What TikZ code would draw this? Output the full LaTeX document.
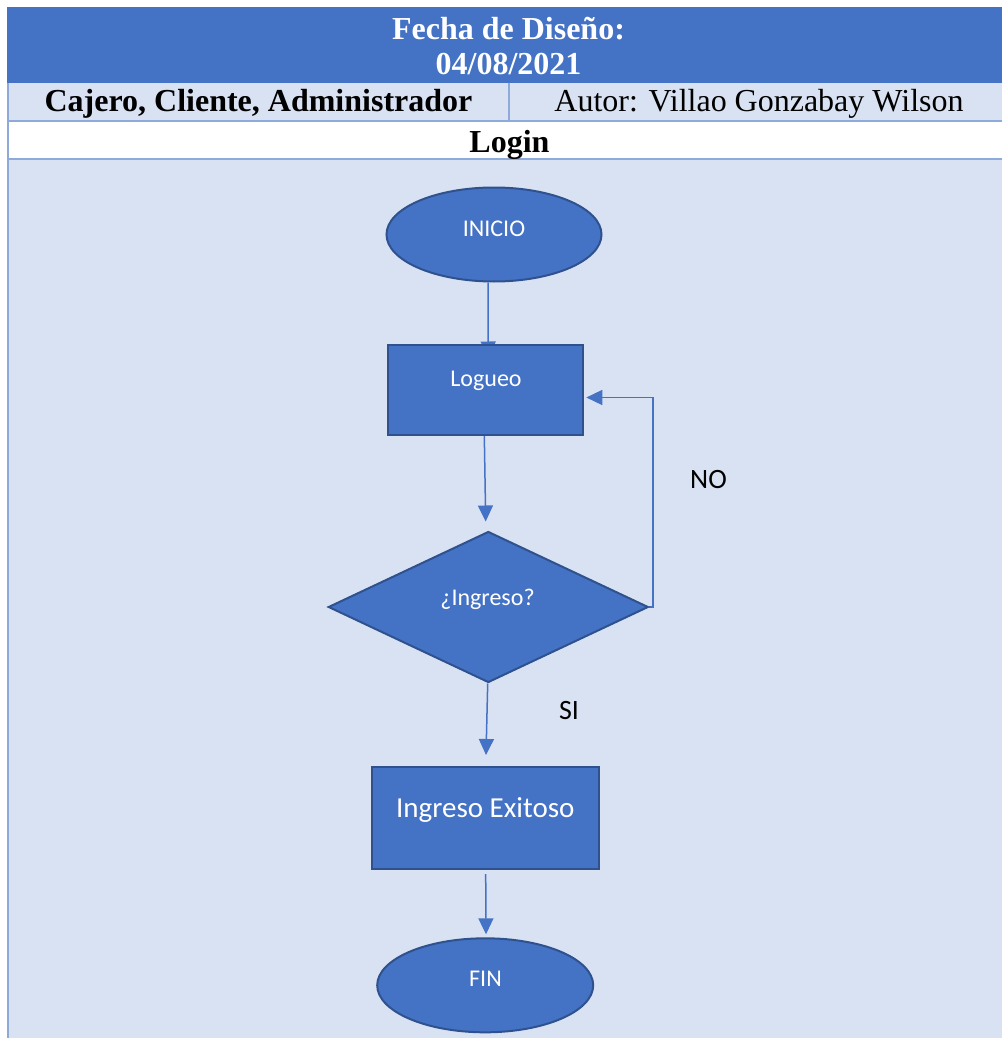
\documentclass[tikz,border=0pt]{standalone}
\usepackage{fontspec}
\setmainfont{Liberation Serif}
\newfontfamily\calibri{Carlito}
\usetikzlibrary{shapes.geometric,arrows.meta,calc}
\definecolor{accent}{HTML}{4472C4}
\definecolor{accentdark}{HTML}{2F528F}
\definecolor{paleblue}{HTML}{D9E2F3}
\definecolor{gridline}{HTML}{8EAADB}
\pgfdeclarelayer{back}
\pgfdeclarelayer{links}
\pgfsetlayers{back,links,main}
\begin{document}
\begin{tikzpicture}[x=1pt,y=-1pt,
  shapebox/.style={draw=accentdark,fill=accent,line width=2pt,inner sep=0pt},
  terminal/.style={shapebox,ellipse,minimum width=215pt,minimum height=94pt},
  process/.style={shapebox,rectangle},
  decision/.style={shapebox,diamond,minimum width=320pt,minimum height=151pt},
  shapetext/.style={text=white,inner sep=0pt,anchor=base,font=\calibri\fontsize{24}{28}\selectfont},
  flowtext/.style={text=black,inner sep=0pt,anchor=base,font=\calibri\fontsize{28}{32}\selectfont},
  cellhead/.style={text=white,inner sep=0pt,anchor=base,font=\fontsize{32}{38}\selectfont\bfseries},
  celltext/.style={text=black,inner sep=0pt,anchor=base,font=\fontsize{32}{38}\selectfont},
  flow/.style={draw=accent,line width=1.5pt,-{Triangle[length=16pt,width=15pt]}},
  rule/.style={draw=gridline,line width=1.7pt}
]
\useasboundingbox (0,0) rectangle (1001,1038);
\clip (0,0) rectangle (1001,1038);

% table background and rules
\begin{pgfonlayer}{back}
  \fill[white] (0,0) rectangle (1001,1038);
  \fill[paleblue] (7,83) rectangle (1010,1040);
  \fill[white] (7,121) rectangle (1010,159);
  \fill[accent] (7,7) rectangle (1010,83);
  \draw[rule] (7.8,83) -- (7.8,1040);
  \draw[rule] (7,121) -- (1010,121);
  \draw[rule] (7,159) -- (1010,159);
  \draw[rule] (509,83) -- (509,121);
\end{pgfonlayer}

% table texts
\node[cellhead] (fecha) at (508.5,40) {Fecha de Diseño:};
\node[cellhead] (fechaval) at (508.5,75) {04/08/2021};
\node[celltext,font=\fontsize{32}{38}\selectfont\bfseries] (roles) at (258.5,112) {Cajero, Cliente, Administrador};
\node[celltext] (autor) at (759,112) {Autor: Villao Gonzabay Wilson};
\node[celltext,font=\fontsize{32}{38}\selectfont\bfseries] (titulo) at (509.5,152) {Login};

% flowchart shapes
\node[terminal] (inicio) at (494,234.5) {};
\node[process,minimum width=195.6pt,minimum height=90pt] (logueo) at (485.5,389.5) {};
\node[decision] (ingreso) at (488.3,607) {};
\node[process,minimum width=227.3pt,minimum height=102pt] (exito) at (485.3,818) {};
\node[terminal,minimum width=216pt] (fin) at (485.2,985.3) {};

\node[shapetext] (inicio-t) at (494,236.7) {INICIO};
\node[shapetext] (logueo-t) at (486,386.7) {Logueo};
\node[shapetext] (ingreso-t) at (487.5,605) {¿Ingreso?};
\node[shapetext,font=\calibri\fontsize{29}{34}\selectfont] (exito-t) at (485.3,817.3) {Ingreso Exitoso};
\node[shapetext] (fin-t) at (485.5,986.7) {FIN};

% branch labels
\node[flowtext] (no-t) at (708.5,488) {NO};
\node[flowtext] (si-t) at (569,719) {SI};

% connectors
\coordinate (loopx) at (653,500);
\begin{pgfonlayer}{links}
  \draw[flow] ($(inicio.south)+(-6,0)$) -- ($(logueo.north)+(2.7,14)$);
  \draw[flow] ($(logueo.south)+(-1.2,0)$) -- ($(ingreso.north)+(-2.6,-9)$);
  \draw[flow] ($(ingreso.south)+(-0.6,0)$) -- ($(exito.north)+(0.7,-11)$);
  \draw[flow] ($(exito.south)+(0.4,4)$) -- ($(fin.north)+(0.8,-3)$);
  \draw[flow] (ingreso.east) -| (loopx) |- ($(logueo.east)+(2,8)$);
\end{pgfonlayer}
\end{tikzpicture}
\end{document}
